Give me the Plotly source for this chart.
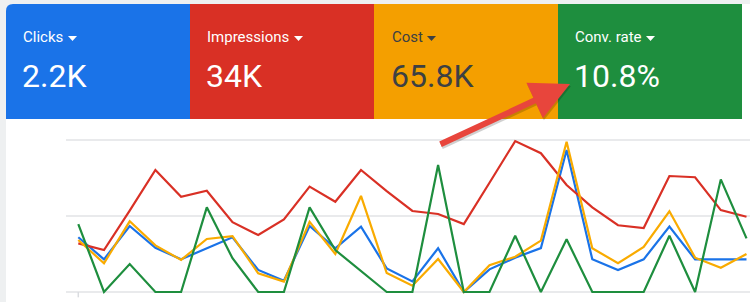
import plotly.graph_objects as go

W, H = 750, 302

# ---- data (normalized chart units: 0 = bottom gridline, 100 = top gridline) ----
days = list(range(1, 28))
clicks = [36.0, 21.5, 43.4, 29.1, 21.5, 28.8, 36.0, 14.5, 7.4, 43.4, 28.8, 43.0, 15.5, 7.0,
          28.8, 0.0, 14.9, 22.6, 28.9, 93.4, 21.5, 14.5, 21.5, 43.0, 21.5, 21.5, 21.5]
impressions = [32.0, 27.6, 53.5, 80.3, 62.7, 66.6, 45.9, 37.5, 47.8, 69.3, 59.4, 80.3, 66.4, 53.3,
               51.3, 44.7, 71.9, 99.3, 91.3, 70.4, 55.7, 43.9, 42.1, 76.3, 75.5, 53.9, 49.5]
cost = [34.2, 18.9, 46.5, 30.7, 21.1, 34.9, 36.8, 12.3, 6.8, 46.1, 25.0, 63.2, 12.5, 4.1,
        21.7, 0.0, 17.6, 23.2, 33.8, 98.9, 28.8, 18.9, 29.6, 53.1, 22.6, 16.0, 25.0]
conv_rate = [44.7, 0.0, 18.4, 0.0, 0.0, 55.7, 22.2, 0.0, 0.0, 55.7, 27.6, 14.0, 0.0, 0.0,
             83.6, 0.0, 0.0, 37.0, 0.0, 34.7, 0.0, 0.0, 0.0, 37.0, 0.0, 74.1, 35.3]

metric_names = ["Clicks", "Impressions", "Cost", "Conv. rate"]
metric_totals = ["2.2K", "34K", "65.8K", "10.8%"]
series = [clicks, impressions, cost, conv_rate]
line_colors = ["#1a73e8", "#d93025", "#f9ab00", "#1e8e3e"]
tile_colors = ["#1a73e8", "#d93025", "#f49f00", "#1e8e3e"]
text_colors = ["#ffffff", "#ffffff", "#3c4043", "#ffffff"]


def px(x):
    return x / W


def py(y):
    return 1 - y / H


fig = go.Figure()
for name, vals, col in zip(metric_names, series, line_colors):
    fig.add_trace(go.Scatter(x=days, y=vals, mode="lines", name=name,
                             line=dict(color=col, width=2.2), hoverinfo="skip"))

# axes: plot region 66..750 px wide, 120..302 px tall
unit = 1.52  # px per chart unit
r0 = -(302 - 292) / unit
r1 = r0 + 182 / unit
step = 25.7
x0 = days[0] - (78.3 - 66) / step
x1 = days[-1] + (750 - 746.5) / step

fig.update_layout(
    width=W, height=H,
    margin=dict(l=0, r=0, t=0, b=0),
    paper_bgcolor="#eef0f1",
    plot_bgcolor="#ffffff",
    showlegend=False,
    xaxis=dict(domain=[px(66), 1], range=[x0, x1], showgrid=False, zeroline=False,
               showticklabels=False, showline=False, ticks=""),
    yaxis=dict(domain=[0, 182 / H], range=[r0, r1], tick0=0, dtick=50, showgrid=True,
               gridcolor="#e9eaec", gridwidth=2, zeroline=False, showticklabels=False,
               showline=False, ticks=""),
)

shapes = []
# white card with rounded top-left corner
rad = 7
shapes.append(dict(type="path", xref="paper", yref="paper", layer="below",
                   path=f"M {px(6)},{py(H)} L {px(6)},{py(4+rad)} Q {px(6)},{py(4)} {px(6+rad)},{py(4)} "
                        f"L {px(750)},{py(4)} L {px(750)},{py(H)} Z",
                   fillcolor="#ffffff", line=dict(width=0)))
# metric tiles
tile_x = [6, 190, 374, 558, 742]
for i, col in enumerate(tile_colors):
    a, b = tile_x[i], tile_x[i + 1]
    if i == 0:
        path = (f"M {px(a)},{py(119)} L {px(a)},{py(4+rad)} Q {px(a)},{py(4)} {px(a+rad)},{py(4)} "
                f"L {px(b)},{py(4)} L {px(b)},{py(119)} Z")
    else:
        path = f"M {px(a)},{py(119)} L {px(a)},{py(4)} L {px(b)},{py(4)} L {px(b)},{py(119)} Z"
    shapes.append(dict(type="path", xref="paper", yref="paper", layer="below", path=path,
                       fillcolor=col, line=dict(width=0)))

label_x = [22, 206, 391, 574]
label_w = [38, 80, 28, 64]
annotations = []
for i in range(4):
    annotations.append(dict(xref="paper", yref="paper", x=px(label_x[i] - 1), y=py(37),
                            xanchor="left", yanchor="middle", showarrow=False,
                            text=metric_names[i],
                            font=dict(family="Roboto", size=15, color=text_colors[i])))
    annotations.append(dict(xref="paper", yref="paper", x=px(label_x[i] - 2), y=py(76),
                            xanchor="left", yanchor="middle", showarrow=False,
                            text=metric_totals[i],
                            font=dict(family="Roboto", size=32, color=text_colors[i])))
    tx = label_x[i] + label_w[i] + 8
    shapes.append(dict(type="path", xref="paper", yref="paper",
                       path=f"M {px(tx)},{py(36)} L {px(tx+9)},{py(36)} L {px(tx+4.5)},{py(41)} Z",
                       fillcolor=text_colors[i], line=dict(width=0)))

# small x-axis tick at first point
shapes.append(dict(type="line", xref="x", yref="y", x0=days[0], x1=days[0], y0=0, y1=-3.5,
                   line=dict(color="#dadce0", width=1.5)))

# red arrow pointing at the conversion rate (shadow + arrow)
annotations.append(dict(xref="paper", yref="paper", x=px(571), y=py(86), ax=-131, ay=61,
                        text="", showarrow=True, arrowhead=2, arrowsize=1.3, arrowwidth=6,
                        arrowcolor="rgba(0,0,0,0.18)", standoff=0))
annotations.append(dict(xref="paper", yref="paper", x=px(570), y=py(84), ax=-131, ay=61,
                        text="", showarrow=True, arrowhead=2, arrowsize=1.3, arrowwidth=6,
                        arrowcolor="#e8453c", standoff=0))

fig.update_layout(shapes=shapes, annotations=annotations)
fig.write_html("out.html")
